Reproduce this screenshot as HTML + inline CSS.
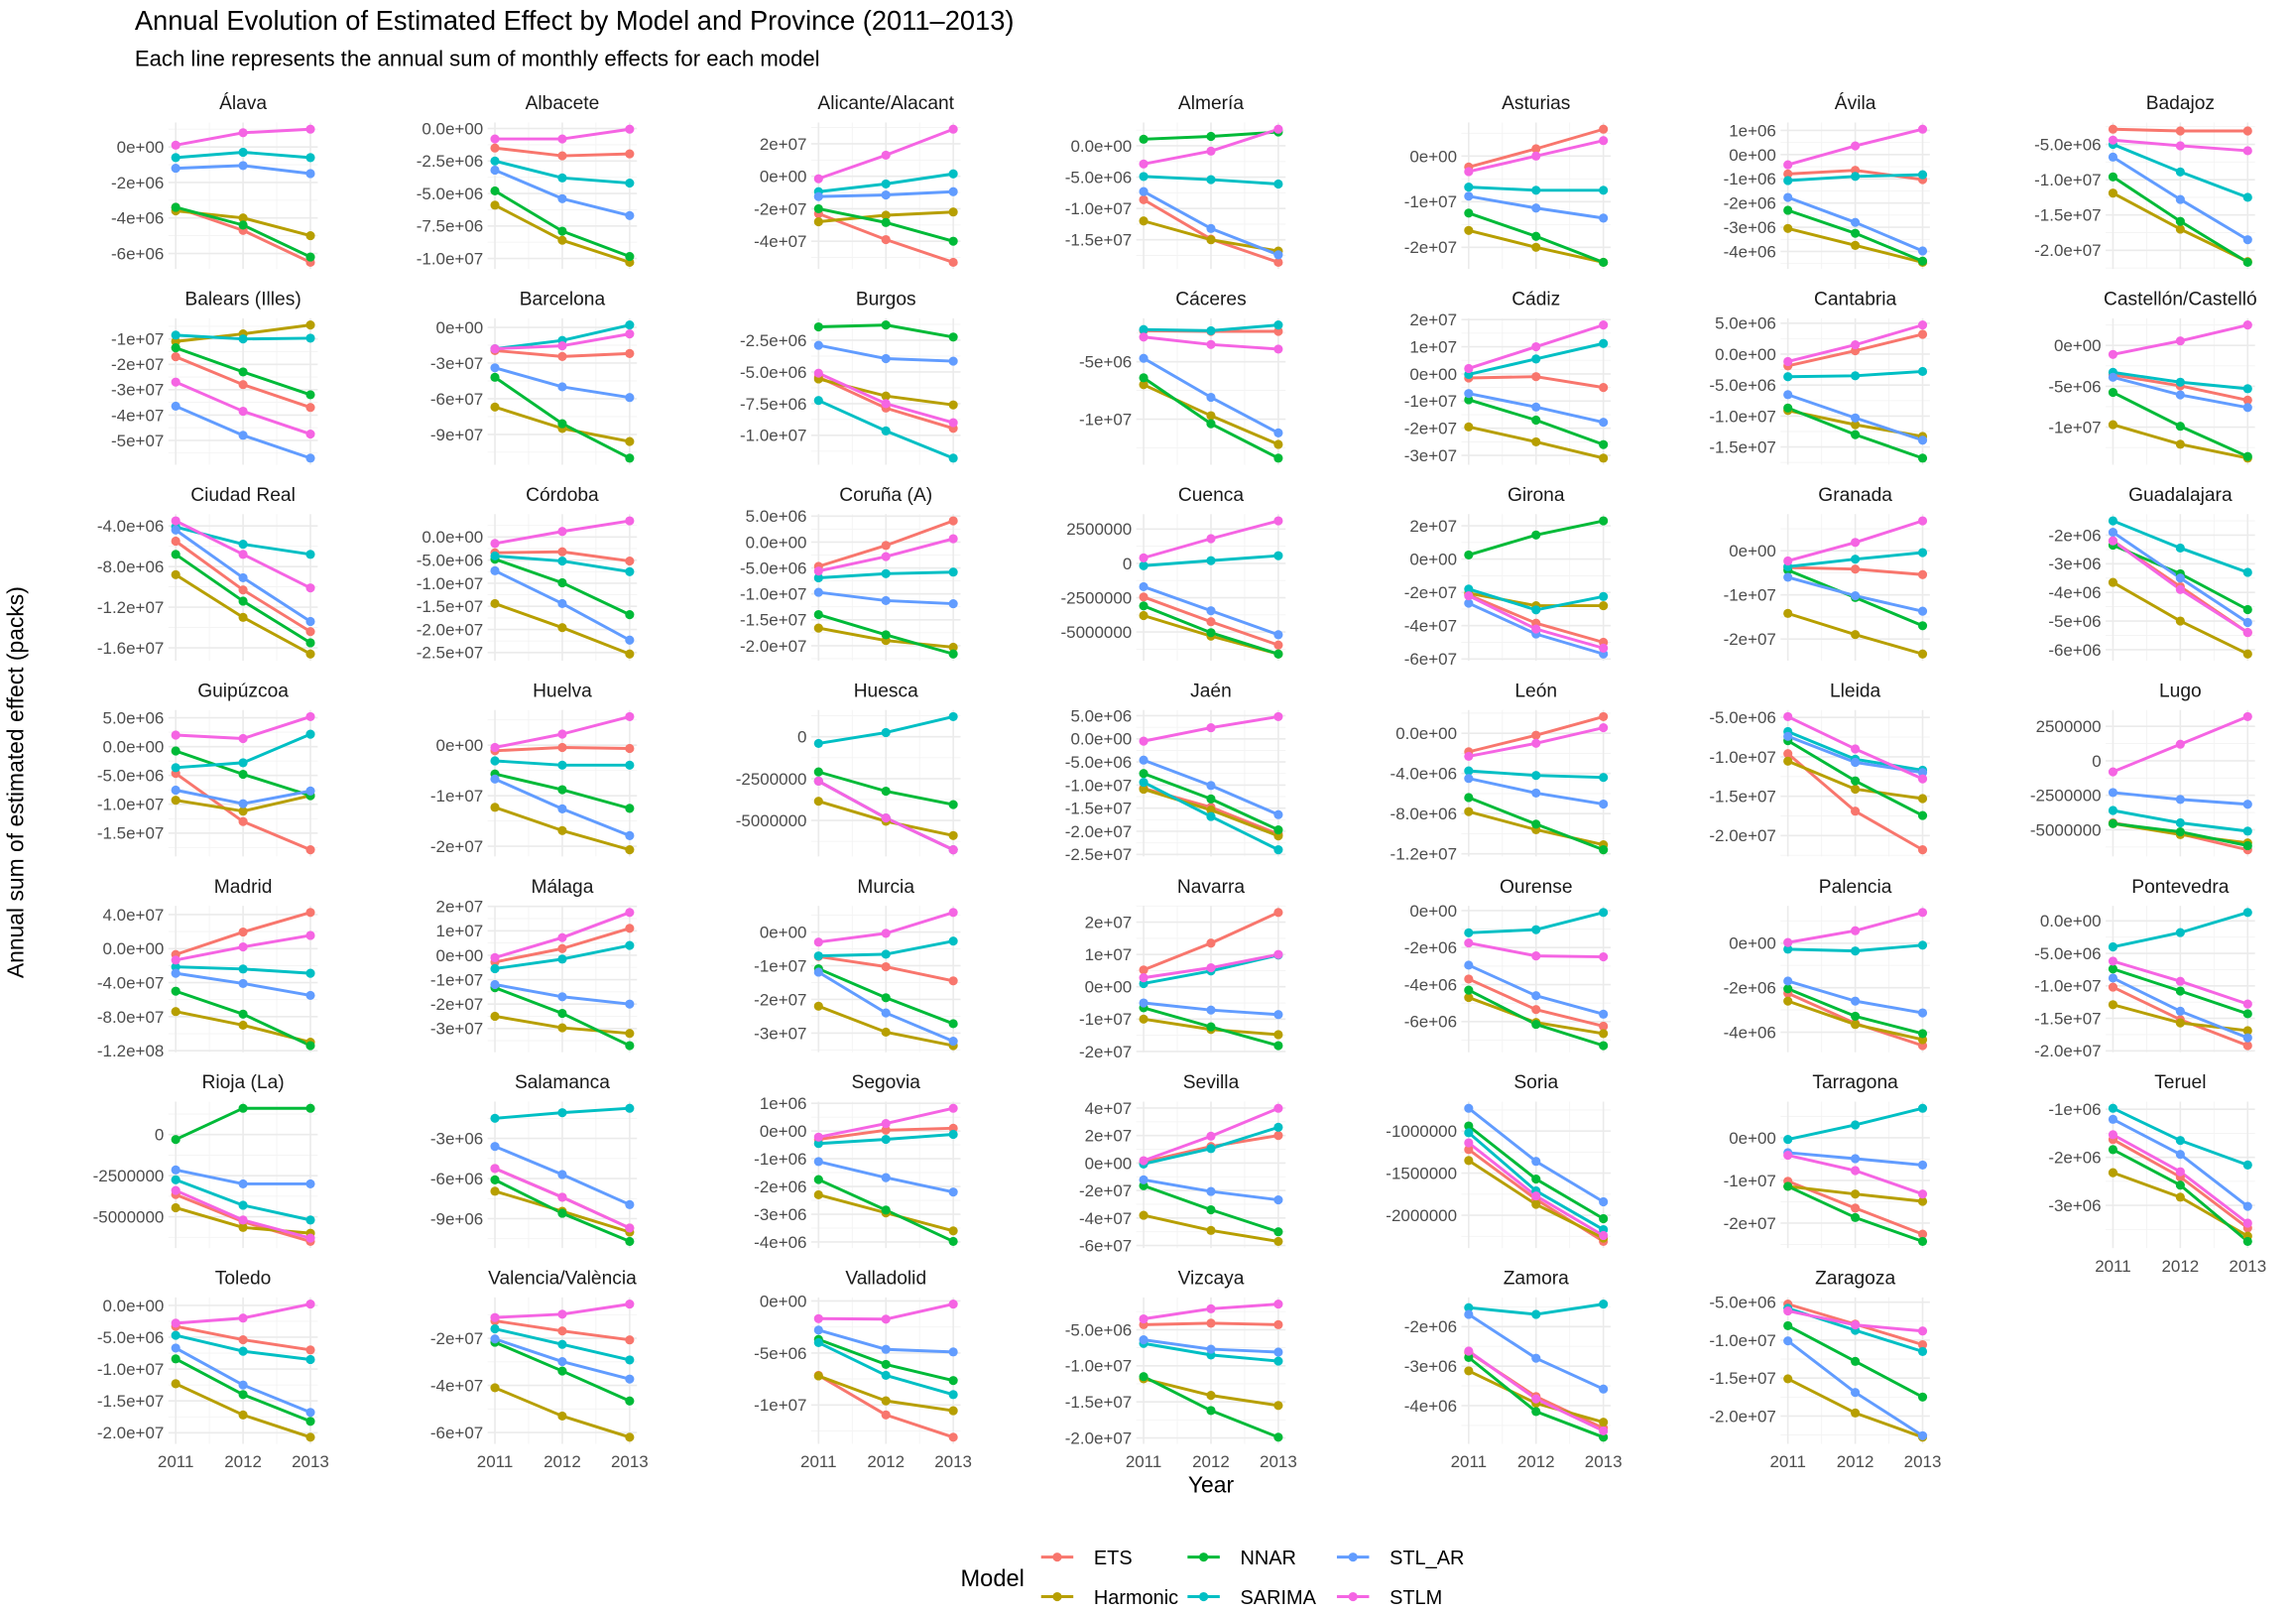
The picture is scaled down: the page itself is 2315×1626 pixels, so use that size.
<!DOCTYPE html>
<html>
<head>
<meta charset="utf-8">
<style>
html,body{margin:0;padding:0;background:#fff;}
svg{display:block;font-family:"Liberation Sans",Arial,sans-serif;}
</style>
</head>
<body>
<svg id="chart" width="2315" height="1626" viewBox="0 0 1568 1101" xmlns="http://www.w3.org/2000/svg">
<rect x="0" y="0" width="1568" height="1101" fill="#ffffff"/>
<text x="92" y="20" font-size="18.5" fill="#000">Annual Evolution of Estimated Effect by Model and Province (2011–2013)</text>
<text x="92" y="45" font-size="15" fill="#000">Each line represents the annual sum of monthly effects for each model</text>
<text x="827" y="1019" font-size="15.5" text-anchor="middle" fill="#000">Year</text>
<text x="0" y="0" font-size="15.5" text-anchor="middle" fill="#000" transform="translate(16,534) rotate(-90)">Annual sum of estimated effect (packs)</text>
<g id="panels"></g>
<g id="legend"></g>
</svg>
<script>
const years = [2011, 2012, 2013];
const models = ["ETS","Harmonic","NNAR","SARIMA","STL_AR","STLM"];
const modelColors = ["#F8766D","#B79F00","#00BA38","#00BFC4","#619CFF","#F564E3"];
const provinces = ["Álava","Albacete","Alicante/Alacant","Almería","Asturias","Ávila","Badajoz",
"Balears (Illes)","Barcelona","Burgos","Cáceres","Cádiz","Cantabria","Castellón/Castelló",
"Ciudad Real","Córdoba","Coruña (A)","Cuenca","Girona","Granada","Guadalajara",
"Guipúzcoa","Huelva","Huesca","Jaén","León","Lleida","Lugo",
"Madrid","Málaga","Murcia","Navarra","Ourense","Palencia","Pontevedra",
"Rioja (La)","Salamanca","Segovia","Sevilla","Soria","Tarragona","Teruel",
"Toledo","Valencia/València","Valladolid","Vizcaya","Zamora","Zaragoza"];
// values in millions of packs
const ETS = [[-3.4,-4.7,-6.5],[-1.5,-2.1,-1.95],[-23,-39,-53],[-8.6,-14.9,-18.6],[-2.4,1.6,5.9],[-0.8,-0.65,-1.03],[-2.85,-3.1,-3.1],
[-17,-28,-37],[-19.5,-24.5,-22],[-5.4,-7.85,-9.45],[-2.3,-2.35,-2.35],[-1.5,-1,-5],[-1.9,0.55,3.2],[-3.6,-4.95,-6.7],
[-5.5,-10.3,-14.4],[-3.4,-3.2,-5.2],[-4.7,-0.65,4.1],[-2.45,-4.25,-5.95],[-21.5,-38.5,-50],[-3.8,-4.15,-5.4],[-2.2,-3.8,-5.4],
[-4.65,-13,-17.9],[-1.1,-0.45,-0.65],[-2.65,-4.85,-6.75],[-10.7,-14.8,-20.6],[-1.85,-0.2,1.65],[-9.6,-16.9,-21.8],[-4.5,-5.3,-6.45],
[-7,19.5,42.5],[-2.8,2.7,11],[-7.3,-10.3,-14.5],[5.2,13.5,23],[-3.7,-5.35,-6.25],[-2.25,-3.6,-4.6],[-10.2,-15.2,-19.2],
[-3.65,-5.3,-6.5],[-5.25,-7.4,-9.7],[-0.3,0.03,0.1],[0.7,12,20],[-1.22,-1.81,-2.31],[-10.2,-16.5,-22.6],[-1.63,-2.41,-3.47],
[-3.3,-5.4,-7],[-12.6,-16.9,-20.7],[-7.15,-10.95,-13.1],[-4.3,-4.1,-4.3],[-2.65,-3.77,-4.57],[-5.25,-7.9,-10.6]];
const Harmonic = [[-3.6,-4.0,-5.0],[-5.9,-8.6,-10.3],[-28,-24,-22],[-12,-15,-16.8],[-16.3,-20,-23.3],[-3.05,-3.75,-4.45],[-11.9,-17,-21.6],
[-11,-8,-4.5],[-67,-85,-96],[-5.55,-6.9,-7.6],[-7,-9.7,-12.2],[-19.5,-25,-31],[-9.1,-11.4,-13.3],[-9.7,-12.1,-13.8],
[-8.8,-13,-16.6],[-14.4,-19.6,-25.3],[-16.6,-19,-20.3],[-3.8,-5.3,-6.6],[-20.5,-28,-28],[-14.2,-19,-23.4],[-3.65,-5,-6.15],
[-9.3,-11.2,-8.5],[-12.3,-16.9,-20.7],[-3.85,-5.05,-5.9],[-10.9,-15.4,-21],[-7.8,-9.6,-11.1],[-10.55,-14.1,-15.3],[-4.55,-5.35,-5.95],
[-74,-90,-110],[-25,-29.7,-32],[-22,-29.7,-33.7],[-10,-13.2,-14.8],[-4.7,-6.05,-6.65],[-2.6,-3.65,-4.33],[-12.9,-15.7,-16.9],
[-4.45,-5.65,-6.0],[-6.95,-8.45,-10],[-2.3,-2.95,-3.6],[-38,-49,-57],[-1.35,-1.87,-2.27],[-11.4,-13.2,-14.9],[-2.32,-2.83,-3.64],
[-12.3,-17.2,-20.7],[-41,-53,-62],[-7.2,-9.6,-10.55],[-11.8,-14.1,-15.5],[-3.12,-3.94,-4.42],[-15.1,-19.6,-22.8]];
const NNAR = [[-3.4,-4.4,-6.2],[-4.8,-7.9,-9.85],[-20,-28.5,-40],[1.05,1.5,2.2],[-12.5,-17.6,-23.3],[-2.3,-3.25,-4.4],[-9.6,-15.9,-21.7],
[-13.5,-23,-32],[-42,-81,-110],[-1.45,-1.3,-2.25],[-6.4,-10.4,-13.4],[-9.5,-17,-26],[-8.7,-13,-16.8],[-5.75,-9.9,-13.6],
[-6.8,-11.4,-15.5],[-4.8,-9.9,-16.8],[-14,-17.9,-21.6],[-3.1,-5.05,-6.6],[2.5,14.5,23],[-4.4,-10.6,-17],[-2.35,-3.35,-4.6],
[-0.75,-4.8,-8.5],[-5.7,-8.8,-12.5],[-2.1,-3.25,-4.05],[-7.5,-13,-19.7],[-6.4,-9.05,-11.6],[-7.95,-13.05,-17.45],[-4.55,-5.15,-6.15],
[-50,-77,-114],[-13.3,-23.8,-37],[-10.9,-19.5,-27.2],[-6.5,-12.4,-18.2],[-4.3,-6.15,-7.3],[-2.05,-3.28,-4.06],[-7.4,-10.8,-14.3],
[-0.3,1.6,1.6],[-6.1,-8.6,-10.7],[-1.75,-2.85,-3.98],[-16.5,-34,-50],[-0.94,-1.57,-2.04],[-11.4,-18.7,-24.3],[-1.84,-2.58,-3.75],
[-8.4,-14,-18.2],[-21.7,-33.9,-46.6],[-3.7,-6.1,-7.65],[-11.5,-16.2,-19.9],[-2.78,-4.15,-4.8],[-8.1,-12.8,-17.5]];
const SARIMA = [[-0.6,-0.3,-0.6],[-2.5,-3.8,-4.2],[-9.5,-4.7,1.5],[-4.9,-5.4,-6.1],[-6.8,-7.5,-7.5],[-1.07,-0.9,-0.83],[-5,-8.9,-12.5],
[-8.5,-10,-9.7],[-18,-11,2],[-7.25,-9.65,-11.8],[-2.2,-2.3,-1.8],[-0.2,5.5,11.2],[-3.65,-3.5,-2.8],[-3.3,-4.5,-5.3],
[-4.1,-5.8,-6.8],[-4.1,-5.2,-7.5],[-6.9,-6.1,-5.8],[-0.17,0.2,0.56],[-18,-30.5,-22.5],[-3.6,-1.9,-0.4],[-1.5,-2.45,-3.3],
[-3.65,-2.8,2.15],[-3.1,-3.95,-3.95],[-0.4,0.25,1.2],[-9.4,-16.8,-24],[-3.75,-4.2,-4.4],[-6.8,-10.3,-11.7],[-3.6,-4.5,-5.1],
[-21.5,-24,-29],[-5.5,-1.6,4],[-7.1,-6.6,-2.7],[1,4.9,9.8],[-1.2,-1.03,-0.1],[-0.27,-0.35,-0.09],[-4,-1.8,1.3],
[-2.75,-4.3,-5.2],[-1.5,-1.08,-0.75],[-0.45,-0.3,-0.12],[-0.7,10.5,26],[-1.02,-1.71,-2.17],[-0.4,3,6.9],[-0.98,-1.65,-2.16],
[-4.7,-7.2,-8.5],[-16,-22.6,-29.2],[-4,-7.15,-9],[-6.9,-8.5,-9.35],[-1.52,-1.69,-1.43],[-5.8,-8.7,-11.5]];
const STL_AR = [[-1.2,-1.05,-1.5],[-3.2,-5.4,-6.7],[-12.5,-11.5,-9.5],[-7.3,-13.2,-17.4],[-8.8,-11.4,-13.6],[-1.77,-2.8,-3.98],[-6.8,-12.8,-18.5],
[-36.5,-48,-57],[-34,-50,-59],[-2.9,-3.95,-4.15],[-4.7,-8.1,-11.2],[-7.2,-12.2,-17.8],[-6.55,-10.3,-13.9],[-3.9,-6.05,-7.6],
[-4.4,-9.1,-13.4],[-7.3,-14.4,-22.3],[-9.7,-11.3,-11.9],[-1.7,-3.45,-5.2],[-26.5,-45,-57],[-6,-10.2,-13.7],[-1.9,-3.5,-5.05],
[-7.55,-9.9,-7.7],[-6.7,-12.6,-17.9],[-2.65,-4.85,-6.75],[-4.6,-10.1,-16.4],[-4.5,-5.95,-7.05],[-7.4,-10.7,-12],[-2.3,-2.8,-3.15],
[-29,-41,-55],[-12,-17,-20],[-11.9,-24,-32.4],[-5,-7.2,-8.6],[-2.95,-4.6,-5.6],[-1.7,-2.6,-3.13],[-8.8,-13.9,-18],
[-2.15,-3,-3],[-3.6,-5.7,-7.95],[-1.1,-1.68,-2.2],[-12.2,-20.7,-26.8],[-0.73,-1.36,-1.84],[-3.5,-4.9,-6.4],[-1.21,-1.94,-3.02],
[-6.7,-12.5,-16.8],[-20.3,-29.9,-37.3],[-2.8,-4.65,-4.9],[-6.4,-7.7,-8.1],[-1.69,-2.8,-3.58],[-10.1,-16.9,-22.6]];
const STLM = [[0.1,0.8,1.0],[-0.8,-0.8,-0.05],[-1.5,13,29],[-2.9,-0.85,2.65],[-3.4,0,3.4],[-0.42,0.36,1.05],[-4.4,-5.2,-5.9],
[-27,-38.5,-47.5],[-18,-15.5,-5.5],[-5.1,-7.5,-9],[-2.85,-3.5,-3.9],[2,10,18],[-1.2,1.5,4.7],[-1.1,0.55,2.5],
[-3.5,-6.8,-10.1],[-1.4,1.2,3.5],[-5.6,-2.8,0.65],[0.4,1.8,3.1],[-22,-42,-53.5],[-2.3,1.9,6.8],[-2.2,-3.9,-5.4],
[2,1.4,5.2],[-0.45,2.2,5.65],[-2.65,-4.85,-6.75],[-0.5,2.4,4.8],[-2.3,-1,0.55],[-4.9,-9,-12.8],[-0.8,1.2,3.2],
[-13.5,2,15.5],[-1,7.2,17.5],[-3,-0.4,5.8],[2.8,5.9,10],[-1.75,-2.45,-2.5],[0.03,0.56,1.38],[-6.2,-9.3,-12.8],
[-3.4,-5.2,-6.3],[-5.25,-7.4,-9.7],[-0.22,0.27,0.82],[1.7,19.5,39.8],[-1.14,-1.77,-2.24],[-4.1,-7.7,-13.2],[-1.53,-2.3,-3.37],
[-2.8,-2,0.2],[-11.2,-9.8,-5.5],[-1.7,-1.75,-0.3],[-3.5,-2.1,-1.45],[-2.62,-3.83,-4.64],[-6.15,-8,-8.8]];
const tickLabels = [
["0e+00","-2e+06","-4e+06","-6e+06"],
["0.0e+00","-2.5e+06","-5.0e+06","-7.5e+06","-1.0e+07"],
["2e+07","0e+00","-2e+07","-4e+07"],
["0.0e+00","-5.0e+06","-1.0e+07","-1.5e+07"],
["0e+00","-1e+07","-2e+07"],
["1e+06","0e+00","-1e+06","-2e+06","-3e+06","-4e+06"],
["-5.0e+06","-1.0e+07","-1.5e+07","-2.0e+07"],
["-1e+07","-2e+07","-3e+07","-4e+07","-5e+07"],
["0e+00","-3e+07","-6e+07","-9e+07"],
["-2.5e+06","-5.0e+06","-7.5e+06","-1.0e+07"],
["-5e+06","-1e+07"],
["2e+07","1e+07","0e+00","-1e+07","-2e+07","-3e+07"],
["5.0e+06","0.0e+00","-5.0e+06","-1.0e+07","-1.5e+07"],
["0e+00","-5e+06","-1e+07"],
["-4.0e+06","-8.0e+06","-1.2e+07","-1.6e+07"],
["0.0e+00","-5.0e+06","-1.0e+07","-1.5e+07","-2.0e+07","-2.5e+07"],
["5.0e+06","0.0e+00","-5.0e+06","-1.0e+07","-1.5e+07","-2.0e+07"],
["2500000","0","-2500000","-5000000"],
["2e+07","0e+00","-2e+07","-4e+07","-6e+07"],
["0e+00","-1e+07","-2e+07"],
["-2e+06","-3e+06","-4e+06","-5e+06","-6e+06"],
["5.0e+06","0.0e+00","-5.0e+06","-1.0e+07","-1.5e+07"],
["0e+00","-1e+07","-2e+07"],
["0","-2500000","-5000000"],
["5.0e+06","0.0e+00","-5.0e+06","-1.0e+07","-1.5e+07","-2.0e+07","-2.5e+07"],
["0.0e+00","-4.0e+06","-8.0e+06","-1.2e+07"],
["-5.0e+06","-1.0e+07","-1.5e+07","-2.0e+07"],
["2500000","0","-2500000","-5000000"],
["4.0e+07","0.0e+00","-4.0e+07","-8.0e+07","-1.2e+08"],
["2e+07","1e+07","0e+00","-1e+07","-2e+07","-3e+07"],
["0e+00","-1e+07","-2e+07","-3e+07"],
["2e+07","1e+07","0e+00","-1e+07","-2e+07"],
["0e+00","-2e+06","-4e+06","-6e+06"],
["0e+00","-2e+06","-4e+06"],
["0.0e+00","-5.0e+06","-1.0e+07","-1.5e+07","-2.0e+07"],
["0","-2500000","-5000000"],
["-3e+06","-6e+06","-9e+06"],
["1e+06","0e+00","-1e+06","-2e+06","-3e+06","-4e+06"],
["4e+07","2e+07","0e+00","-2e+07","-4e+07","-6e+07"],
["-1000000","-1500000","-2000000"],
["0e+00","-1e+07","-2e+07"],
["-1e+06","-2e+06","-3e+06"],
["0.0e+00","-5.0e+06","-1.0e+07","-1.5e+07","-2.0e+07"],
["-2e+07","-4e+07","-6e+07"],
["0e+00","-5e+06","-1e+07"],
["-5.0e+06","-1.0e+07","-1.5e+07","-2.0e+07"],
["-2e+06","-3e+06","-4e+06"],
["-5.0e+06","-1.0e+07","-1.5e+07","-2.0e+07"]];

const seriesData = [ETS, Harmonic, NNAR, SARIMA, STL_AR, STLM];
const NS = "http://www.w3.org/2000/svg";
const colCenters = [166,384,605,827,1049,1267,1489];
const ROW0 = 83.5, ROWSTEP = 133.7, PH = 100, PW = 102, XSTEP = 46;

function mk(tag, attrs, parent) {
  const el = document.createElementNS(NS, tag);
  for (const k in attrs) el.setAttribute(k, attrs[k]);
  if (parent) parent.appendChild(el);
  return el;
}
function slug(s) {
  return s.normalize("NFD").replace(/[\u0300-\u036f]/g, "").toLowerCase().replace(/[^a-z0-9]+/g, "-").replace(/^-|-$/g, "");
}

const panelsG = document.getElementById("panels");
provinces.forEach((prov, p) => {
  const r = Math.floor(p / 7), c = p % 7;
  const cx = colCenters[c];
  const top = ROW0 + r * ROWSTEP;
  const left = cx - PW / 2;
  const xScale = i => cx - XSTEP + XSTEP * i;
  let mn = Infinity, mx = -Infinity;
  seriesData.forEach(s => s[p].forEach(v => { mn = Math.min(mn, v); mx = Math.max(mx, v); }));
  const span = (mx - mn) || 1;
  const lo = mn - 0.05 * span, hi = mx + 0.05 * span;
  const yScale = v => top + (hi - v) / (hi - lo) * PH;

  const g = mk("g", {}, panelsG);
  
  

  const tv = tickLabels[p].map(t => Number(t) / 1e6).sort((a, b) => a - b);
  const step = tv.length > 1 ? tv[1] - tv[0] : span;
  for (let v = tv[0] - step / 2; v <= hi; v += step) {
    if (v < lo) continue;
    const gl = mk("line", {x1: left, x2: left + PW, y1: yScale(v), y2: yScale(v), stroke: "#f3f3f3", "stroke-width": 0.6}, g);
    
    
  }
  [0.5, 1.5].forEach(i => {
    const gl = mk("line", {x1: xScale(i), x2: xScale(i), y1: top, y2: top + PH, stroke: "#f3f3f3", "stroke-width": 0.6}, g);
    
    
  });
  years.forEach((yr, i) => {
    const gl = mk("line", {x1: xScale(i), x2: xScale(i), y1: top, y2: top + PH, stroke: "#ebebeb", "stroke-width": 1.1}, g);
    
    
  });
  tickLabels[p].forEach(lab => {
    const v = Number(lab) / 1e6;
    if (v < lo || v > hi) return;
    const y = yScale(v);
    const gl = mk("line", {x1: left, x2: left + PW, y1: y, y2: y, stroke: "#ebebeb", "stroke-width": 1.1}, g);
    
    
    const t = mk("text", {x: left - 3, y: y + 4, "font-size": 11.5, fill: "#4d4d4d", "text-anchor": "end"}, g);
    
    
    t.textContent = lab;
  });

  const st = mk("text", {x: cx, y: top - 9, "font-size": 13, fill: "#1a1a1a", "text-anchor": "middle"}, g);
  
  
  st.textContent = prov;

  const isBottom = (r === 6) || (r === 5 && c === 6);
  if (isBottom) {
    years.forEach((yr, i) => {
      const t = mk("text", {x: xScale(i), y: top + PH + 16, "font-size": 11.5, fill: "#4d4d4d", "text-anchor": "middle"}, g);
      
      
      t.textContent = yr;
    });
  }

  seriesData.forEach((s, m) => {
    const pts = s[p].map((v, i) => xScale(i).toFixed(2) + "," + yScale(v).toFixed(2)).join(" ");
    const pl = mk("polyline", {points: pts, fill: "none", stroke: modelColors[m], "stroke-width": 2, "stroke-linejoin": "round"}, g);
    
    
  });
  seriesData.forEach((s, m) => {
    s[p].forEach((v, i) => {
      const ci = mk("circle", {cx: xScale(i), cy: yScale(v), r: 3.1, fill: modelColors[m]}, g);
      
      
    });
  });
});

const lg = document.getElementById("legend");
const lt = mk("text", {x: 656, y: 1083, "font-size": 16, fill: "#000"}, lg);


lt.textContent = "Model";
const legX = [722, 822, 924];
const legY = [1063, 1090];
models.forEach((m, i) => {
  const col = Math.floor(i / 2), row = i % 2;
  const kx = legX[col], ky = legY[row];
  const eg = mk("g", {}, lg);
  
  
  mk("line", {x1: kx - 11, x2: kx + 11, y1: ky, y2: ky, stroke: modelColors[i], "stroke-width": 2}, eg);
  mk("circle", {cx: kx, cy: ky, r: 3.1, fill: modelColors[i]}, eg);
  const t = mk("text", {x: kx + 25, y: ky + 5, "font-size": 13.5, fill: "#000"}, eg);
  t.textContent = m;
});
</script>
</body>
</html>
